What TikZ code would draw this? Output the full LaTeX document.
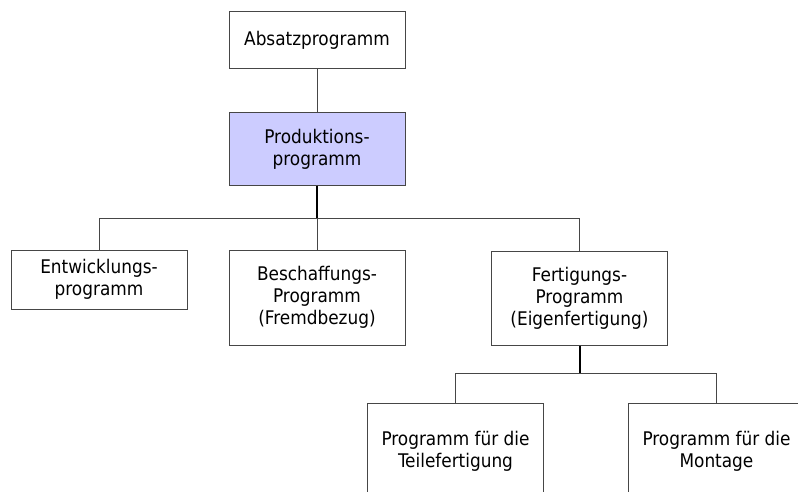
\documentclass[tikz,border=0pt]{standalone}
\usepackage{fontspec}
\setmainfont{DejaVu Sans Condensed}
\usepackage{tikz}
\definecolor{lila}{RGB}{204,204,255}
\definecolor{rand}{RGB}{70,70,70}
\tikzset{
  kasten/.style={draw=rand, line width=1pt, minimum width=176pt, inner sep=0pt,
    align=center, font=\fontsize{18.8}{22}\selectfont},
  ast/.style={draw=rand, line width=1pt},
  stamm/.style={draw=black, line width=2pt}
}
\begin{document}
\begin{tikzpicture}[x=1pt, y=-1pt]

  \clip (0, 0) rectangle (798, 492);
  \fill[white] (0, 0) rectangle (798, 492);

  \node[kasten, minimum height=57pt] (a) at (317, 40.5) {Absatzprogramm};
  \node[kasten, minimum height=72pt, fill=lila] (p) at (317, 149) {Produktions-\\programm};
  \node[kasten, minimum height=59pt] (e) at (99, 279.5) {Entwicklungs-\\programm};
  \node[kasten, minimum height=95pt] (b) at (317, 297.5) {Beschaffungs-\\Programm\\(Fremdbezug)};
  \node[kasten, minimum height=94pt] (f) at (579.5, 298) {Fertigungs-\\Programm\\(Eigenfertigung)};
  \node[kasten, minimum height=96pt] (t) at (455.5, 451) {Programm f\"ur die\\Teilefertigung};
  \node[kasten, minimum height=96pt] (m) at (716.5, 451) {Programm f\"ur die\\Montage};

  \coordinate (j) at (317, 218);
  \coordinate (k) at (579.5, 373);

  \draw[ast] (a) -- (p);
  \draw[stamm] (p) -- (j);
  \draw[ast] (e.north) |- (j);
  \draw[ast] (j) -- (b);
  \draw[ast] (f.north) |- (j);
  \draw[stamm] (f) -- (k);
  \draw[ast] (t.north) |- (k);
  \draw[ast] (m.north) |- (k);

\end{tikzpicture}
\end{document}
